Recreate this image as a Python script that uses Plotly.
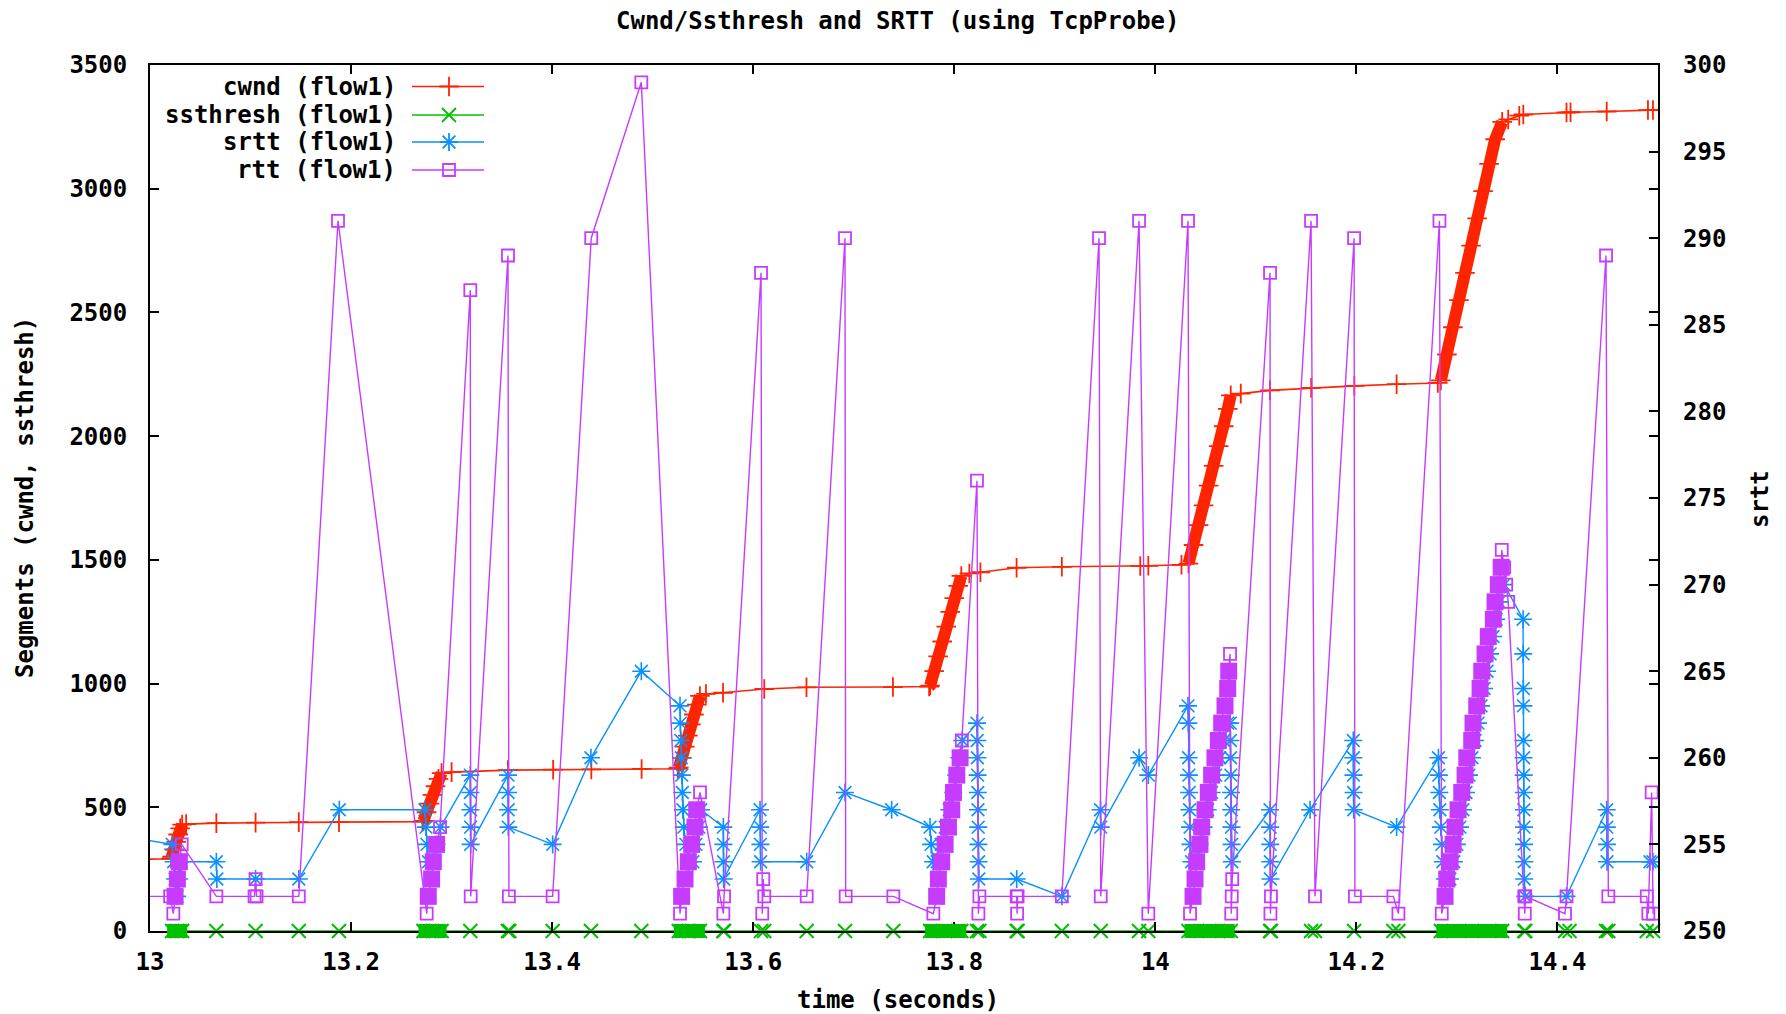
import plotly.graph_objects as go

# ------------------------------------------------------------------ data
x_tick_vals = [13.0, 13.2, 13.4, 13.6, 13.8, 14.0, 14.2, 14.4]
x_tick_text = ["13", "13.2", "13.4", "13.6", "13.8", "14", "14.2", "14.4"]

cwnd_t = [12.990, 13.021, 13.022, 13.024, 13.026, 13.028, 13.030, 13.032, 13.036, 13.066,
          13.105, 13.148, 13.188, 13.271, 13.272, 13.275, 13.278, 13.281, 13.284, 13.287,
          13.290, 13.300, 13.356, 13.401, 13.439, 13.489, 13.525, 13.526, 13.529, 13.532,
          13.535, 13.538, 13.541, 13.544, 13.547, 13.553, 13.570, 13.611, 13.653, 13.739,
          13.775, 13.776, 13.780, 13.784, 13.788, 13.792, 13.796, 13.800, 13.804, 13.807,
          13.815, 13.826, 13.862, 13.907, 13.985, 13.993, 14.026, 14.033, 14.038, 14.043,
          14.048, 14.053, 14.058, 14.063, 14.068, 14.072, 14.075, 14.085, 14.114, 14.155,
          14.198, 14.240, 14.281, 14.284, 14.290, 14.296, 14.302, 14.308, 14.314, 14.320,
          14.326, 14.332, 14.338, 14.345, 14.351, 14.362, 14.366, 14.409, 14.413, 14.449,
          14.490, 14.495, 14.510]
cwnd_v = [290, 292, 300, 330, 360, 390, 415, 430, 432, 436,
          438, 440, 440, 442, 445, 480, 515, 550, 585, 615,
          638, 642, 650, 652, 653, 655, 656, 660, 700, 745,
          790, 835, 875, 915, 950, 958, 963, 978, 985, 986,
          988, 992, 1050, 1110, 1170, 1230, 1290, 1345, 1395, 1435,
          1445, 1450, 1468, 1472, 1475, 1476, 1480, 1485, 1560, 1640,
          1720, 1800, 1880, 1960, 2040, 2110, 2165, 2172, 2185, 2195,
          2203, 2210, 2215, 2225, 2330, 2440, 2550, 2660, 2770, 2880,
          2990, 3100, 3200, 3270, 3280, 3295, 3300, 3308, 3309, 3312,
          3318, 3318, 3320]

ssthresh_t = [13.022, 13.027, 13.032, 13.066, 13.105, 13.148, 13.188, 13.272, 13.281, 13.290,
              13.3186, 13.356, 13.3575, 13.4005, 13.4386, 13.4887, 13.526, 13.536, 13.547, 13.5703,
              13.5710, 13.6078, 13.6110, 13.6532, 13.6913, 13.7394, 13.776, 13.791, 13.807, 13.8226,
              13.8250, 13.8621, 13.8630, 13.907, 13.9457, 13.9838, 13.9930, 14.033, 14.054, 14.075,
              14.1141, 14.1150, 14.1549, 14.1588, 14.1977, 14.2368, 14.2418, 14.284, 14.315, 14.345,
              14.3670, 14.3680, 14.4075, 14.4120, 14.4483, 14.4506, 14.4888, 14.4951]
ssthresh_v = [0, 0, 0, 0, 0, 0, 0, 0, 0, 0,
              0, 0, 0, 0, 0, 0, 0, 0, 0, 0,
              0, 0, 0, 0, 0, 0, 0, 0, 0, 0,
              0, 0, 0, 0, 0, 0, 0, 0, 0, 0,
              0, 0, 0, 0, 0, 0, 0, 0, 0, 0,
              0, 0, 0, 0, 0, 0, 0, 0]

srtt_t = [12.990, 13.0222, 13.0235, 13.0250, 13.0270, 13.0290, 13.0310, 13.0660, 13.0665, 13.1050,
          13.1480, 13.1883, 13.2735, 13.2745, 13.2755, 13.2770, 13.2810, 13.2850, 13.2890, 13.3186,
          13.3187, 13.3188, 13.3189, 13.3190, 13.3561, 13.3562, 13.3563, 13.3564, 13.4005, 13.4386,
          13.4887, 13.5272, 13.5275, 13.5280, 13.5285, 13.5290, 13.5295, 13.5300, 13.5310, 13.5330,
          13.5360, 13.5400, 13.5430, 13.5460, 13.5480, 13.5703, 13.5704, 13.5705, 13.5706, 13.6068,
          13.6070, 13.6072, 13.6074, 13.6532, 13.6913, 13.7377, 13.7759, 13.7770, 13.7790, 13.7830,
          13.7870, 13.7910, 13.7950, 13.7990, 13.8020, 13.8050, 13.8080, 13.8226, 13.8228, 13.8230,
          13.8232, 13.8234, 13.8236, 13.8238, 13.8240, 13.8242, 13.8244, 13.8621, 13.9070, 13.9455,
          13.9457, 13.9838, 13.9930, 14.0325, 14.0328, 14.0331, 14.0334, 14.0337, 14.0340, 14.0345,
          14.0350, 14.0360, 14.0400, 14.0440, 14.0480, 14.0520, 14.0560, 14.0600, 14.0640, 14.0680,
          14.0720, 14.0745, 14.0747, 14.0749, 14.0751, 14.0753, 14.0755, 14.0757, 14.0759, 14.0761,
          14.1141, 14.1142, 14.1143, 14.1144, 14.1145, 14.1539, 14.1969, 14.1970, 14.1971, 14.1972,
          14.1973, 14.2400, 14.2816, 14.2820, 14.2825, 14.2830, 14.2840, 14.2850, 14.2860, 14.2880,
          14.2930, 14.2970, 14.3000, 14.3030, 14.3060, 14.3090, 14.3120, 14.3150, 14.3180, 14.3210,
          14.3240, 14.3270, 14.3300, 14.3330, 14.3360, 14.3390, 14.3420, 14.3470, 14.3658, 14.3659,
          14.3660, 14.3661, 14.3662, 14.3663, 14.3664, 14.3665, 14.3666, 14.3667, 14.3668, 14.3669,
          14.3670, 14.3680, 14.4090, 14.4490, 14.4491, 14.4492, 14.4493, 14.4920, 14.4950]
srtt_v = [255.3, 255, 254, 253, 252, 253, 254, 254, 253, 253,
          253, 257, 257, 256, 255, 254, 254, 255, 256, 259,
          258, 257, 256, 255, 259, 258, 257, 256, 255, 260,
          265, 263, 262, 261, 260, 259, 258, 257, 256, 255,
          254, 254, 255, 256, 257, 256, 255, 254, 253, 257,
          256, 255, 254, 254, 258, 257, 256, 255, 254, 254,
          255, 256, 257, 258, 259, 260, 261, 262, 261, 260,
          259, 258, 257, 256, 255, 254, 253, 253, 252, 257,
          256, 260, 259, 263, 262, 260, 259, 258, 257, 256,
          255, 254, 254, 255, 256, 257, 258, 259, 260, 261,
          262, 262, 261, 260, 259, 258, 257, 256, 255, 254,
          257, 256, 255, 254, 253, 257, 261, 260, 259, 258,
          257, 256, 260, 259, 258, 257, 256, 255, 254, 253,
          253, 254, 255, 256, 257, 258, 259, 260, 261, 262,
          263, 264, 265, 266, 267, 268, 269, 270, 268, 266,
          264, 263, 261, 260, 259, 258, 257, 256, 255, 254,
          253, 252, 252, 257, 256, 255, 254, 254, 254]

rtt_t = [12.990, 13.0200, 13.0232, 13.0249, 13.0272, 13.0292, 13.0315, 13.0660, 13.1040, 13.1050,
         13.1060, 13.1480, 13.1870, 13.2752, 13.2768, 13.2801, 13.2818, 13.2851, 13.2885, 13.3186,
         13.3190, 13.3561, 13.3570, 13.4005, 13.4389, 13.4887, 13.5272, 13.5288, 13.5322, 13.5355,
         13.5388, 13.5421, 13.5438, 13.5471, 13.5703, 13.5710, 13.6078, 13.6090, 13.6100, 13.6110,
         13.6532, 13.6913, 13.6920, 13.7394, 13.7792, 13.7825, 13.7842, 13.7875, 13.7909, 13.7942,
         13.7975, 13.7992, 13.8025, 13.8058, 13.8075, 13.8226, 13.8240, 13.8250, 13.8621, 13.8625,
         13.8630, 13.9070, 13.9440, 13.9457, 13.9838, 13.9930, 14.0325, 14.0345, 14.0375, 14.0395,
         14.0411, 14.0444, 14.0461, 14.0494, 14.0527, 14.0560, 14.0593, 14.0627, 14.0660, 14.0693,
         14.0720, 14.0730, 14.0743, 14.0755, 14.0760, 14.0765, 14.1141, 14.1145, 14.1150, 14.1549,
         14.1588, 14.1977, 14.1985, 14.2368, 14.2418, 14.2826, 14.2849, 14.2882, 14.2899, 14.2932,
         14.2962, 14.2981, 14.3011, 14.3048, 14.3081, 14.3098, 14.3147, 14.3160, 14.3197, 14.3230,
         14.3247, 14.3280, 14.3312, 14.3362, 14.3379, 14.3412, 14.3440, 14.3446, 14.3470, 14.3490,
         14.3510, 14.3670, 14.3675, 14.3680, 14.4075, 14.4090, 14.4483, 14.4506, 14.4888, 14.4904,
         14.4937, 14.4951]
rtt_v = [252, 252, 251, 252, 253, 254, 255, 252, 252, 253,
         252, 252, 291, 251, 252, 253, 254, 255, 256, 287,
         252, 289, 252, 252, 290, 299, 251, 252, 253, 254,
         255, 256, 257, 258, 251, 252, 288, 251, 253, 252,
         252, 290, 252, 252, 251, 252, 253, 254, 255, 256,
         257, 258, 259, 260, 261, 276, 251, 252, 252, 251,
         252, 252, 290, 252, 291, 251, 291, 251, 252, 253,
         254, 255, 256, 257, 258, 259, 260, 261, 262, 263,
         264, 265, 266, 251, 252, 253, 288, 251, 252, 291,
         252, 290, 252, 252, 251, 291, 251, 252, 253, 254,
         255, 256, 257, 258, 259, 260, 261, 262, 263, 264,
         265, 266, 267, 268, 269, 270, 271, 272, 271, 270,
         269, 252, 251, 252, 251, 252, 289, 252, 252, 251,
         258, 251]

# slow-start bursts (time windows where records are densely packed)
burst_start = [13.021, 13.271, 13.525, 13.775, 14.033, 14.2835]
burst_end = [13.033, 13.291, 13.548, 13.808, 14.075, 14.346]

# ------------------------------------------------------------------ styles
RED = "#ff2400"
GREEN = "#00c000"
BLUE = "#0a90ff"
MAGENTA = "#c63cff"
FONT = dict(family="DejaVu Sans Mono", size=24, color="black", weight="bold")

# plot-area geometry (pixels)
L, R, T, B = 150, 1658, 65, 931
W, H = R - L, B - T
SEC_PER_PX = 1.5 / W


def px(x):
    return (x - L) / W


def py(y):
    return (B - y) / H


fig = go.Figure()

# thick ramp parts of cwnd (dense slow-start records)
ramp_x, ramp_y = [], []
for s, e in zip(burst_start, burst_end):
    for t, v in zip(cwnd_t, cwnd_v):
        if s <= t <= e:
            ramp_x.append(t)
            ramp_y.append(v)
    ramp_x.append(None)
    ramp_y.append(None)

fig.add_trace(go.Scatter(x=cwnd_t, y=cwnd_v, mode="lines+markers",
                         line=dict(color=RED, width=1.6),
                         marker=dict(symbol="cross-thin-open", size=14, color=RED,
                                     line=dict(color=RED, width=1.8)),
                         name="cwnd (flow1)"))
fig.add_trace(go.Scatter(x=ramp_x, y=ramp_y, mode="lines",
                         line=dict(color=RED, width=12), hoverinfo="skip"))

fig.add_trace(go.Scatter(x=ssthresh_t, y=ssthresh_v, mode="lines+markers",
                         line=dict(color=GREEN, width=1.5), cliponaxis=False,
                         marker=dict(symbol="x-thin-open", size=14, color=GREEN,
                                     line=dict(color=GREEN, width=2)),
                         name="ssthresh (flow1)"))

fig.add_trace(go.Scatter(x=srtt_t, y=srtt_v, yaxis="y2", mode="lines+markers",
                         line=dict(color=BLUE, width=1.4),
                         marker=dict(symbol="asterisk-open", size=15, color=BLUE,
                                     line=dict(color=BLUE, width=1.6)),
                         name="srtt (flow1)"))

# filled look of the dense rtt squares inside bursts
fill_x, fill_y = [], []
for s, e in zip(burst_start, burst_end):
    pts = [(t, v) for t, v in zip(rtt_t, rtt_v) if s <= t <= e]
    for t, v in pts[1:-1]:
        fill_x.append(t)
        fill_y.append(v)
fig.add_trace(go.Scatter(x=fill_x, y=fill_y, yaxis="y2", mode="markers",
                         marker=dict(symbol="square", size=17, color=MAGENTA,
                                     line=dict(width=0)),
                         hoverinfo="skip"))

fig.add_trace(go.Scatter(x=rtt_t, y=rtt_v, yaxis="y2", mode="lines+markers",
                         line=dict(color=MAGENTA, width=1.4),
                         marker=dict(symbol="square-open", size=12, color=MAGENTA,
                                     line=dict(color=MAGENTA, width=1.8)),
                         name="rtt (flow1)"))

# green bands along the x axis during bursts
shapes = []
for s, e in zip(burst_start, burst_end):
    shapes.append(dict(type="rect", xref="x", yref="paper",
                       x0=s - 4 * SEC_PER_PX, x1=e + 4 * SEC_PER_PX,
                       y0=-7 / H, y1=7 / H, fillcolor=GREEN, line=dict(width=0),
                       layer="above"))

# ------------------------------------------------------------------ legend (gnuplot style)
legend_names = ["cwnd (flow1)", "ssthresh (flow1)", "srtt (flow1)", "rtt (flow1)"]
legend_colors = [RED, GREEN, BLUE, MAGENTA]
legend_symbols = ["cross-thin-open", "x-thin-open", "asterisk-open", "square-open"]
legend_sizes = [14, 14, 15, 12]
legend_rows = [86.5, 115, 142, 170]

annotations = []
for name, col, sym, sz, row in zip(legend_names, legend_colors, legend_symbols,
                                   legend_sizes, legend_rows):
    annotations.append(dict(text=name, x=px(398), y=py(row), xref="paper", yref="paper",
                            xanchor="right", yanchor="middle", showarrow=False, font=FONT))
    fig.add_trace(go.Scatter(x=[px(412), px(484)], y=[py(row), py(row)],
                             xaxis="x3", yaxis="y3", mode="lines",
                             line=dict(color=col, width=1.6), hoverinfo="skip"))
    fig.add_trace(go.Scatter(x=[px(449)], y=[py(row)], xaxis="x3", yaxis="y3",
                             mode="markers", hoverinfo="skip",
                             marker=dict(symbol=sym, size=sz, color=col,
                                         line=dict(color=col, width=1.8))))

annotations += [
    dict(text="Cwnd/Ssthresh and SRTT (using TcpProbe)", x=px(898), y=py(21),
         xref="paper", yref="paper", xanchor="center", yanchor="middle",
         showarrow=False, font=FONT),
    dict(text="time (seconds)", x=px(898), y=py(1000), xref="paper", yref="paper",
         xanchor="center", yanchor="middle", showarrow=False, font=FONT),
    dict(text="Segments (cwnd, ssthresh)", x=px(25), y=py(498), xref="paper",
         yref="paper", xanchor="center", yanchor="middle", textangle=-90,
         showarrow=False, font=FONT),
    dict(text="srtt", x=px(1760), y=py(499), xref="paper", yref="paper",
         xanchor="center", yanchor="middle", textangle=-90, showarrow=False, font=FONT),
]

axis_common = dict(showgrid=False, zeroline=False, ticks="inside", ticklen=9,
                   tickwidth=1.5, tickcolor="black", tickfont=FONT)

fig.update_layout(
    width=1786, height=1014,
    margin=dict(l=L, r=1786 - R, t=T, b=1014 - B, pad=0),
    paper_bgcolor="white", plot_bgcolor="white", showlegend=False,
    xaxis=dict(range=[13.0, 14.5], tickmode="array", tickvals=x_tick_vals,
               ticktext=x_tick_text, showline=True, linewidth=2, linecolor="black",
               mirror="ticks", ticklabelstandoff=8, **axis_common),
    yaxis=dict(range=[0, 3500], tickmode="linear", tick0=0, dtick=500,
               showline=True, linewidth=2, linecolor="black", mirror="ticks",
               ticklabelstandoff=16, **axis_common),
    yaxis2=dict(range=[250, 300], tickmode="linear", tick0=250, dtick=5,
                overlaying="y", side="right", showline=False,
                ticklabelstandoff=24, **axis_common),
    xaxis3=dict(range=[0, 1], overlaying="x", visible=False, fixedrange=True),
    yaxis3=dict(range=[0, 1], overlaying="y", visible=False, fixedrange=True),
    shapes=shapes,
    annotations=annotations,
)

fig.write_html("out.html", config={"displayModeBar": False},
               post_script="document.body.style.margin='0';document.body.style.overflow='hidden';")
